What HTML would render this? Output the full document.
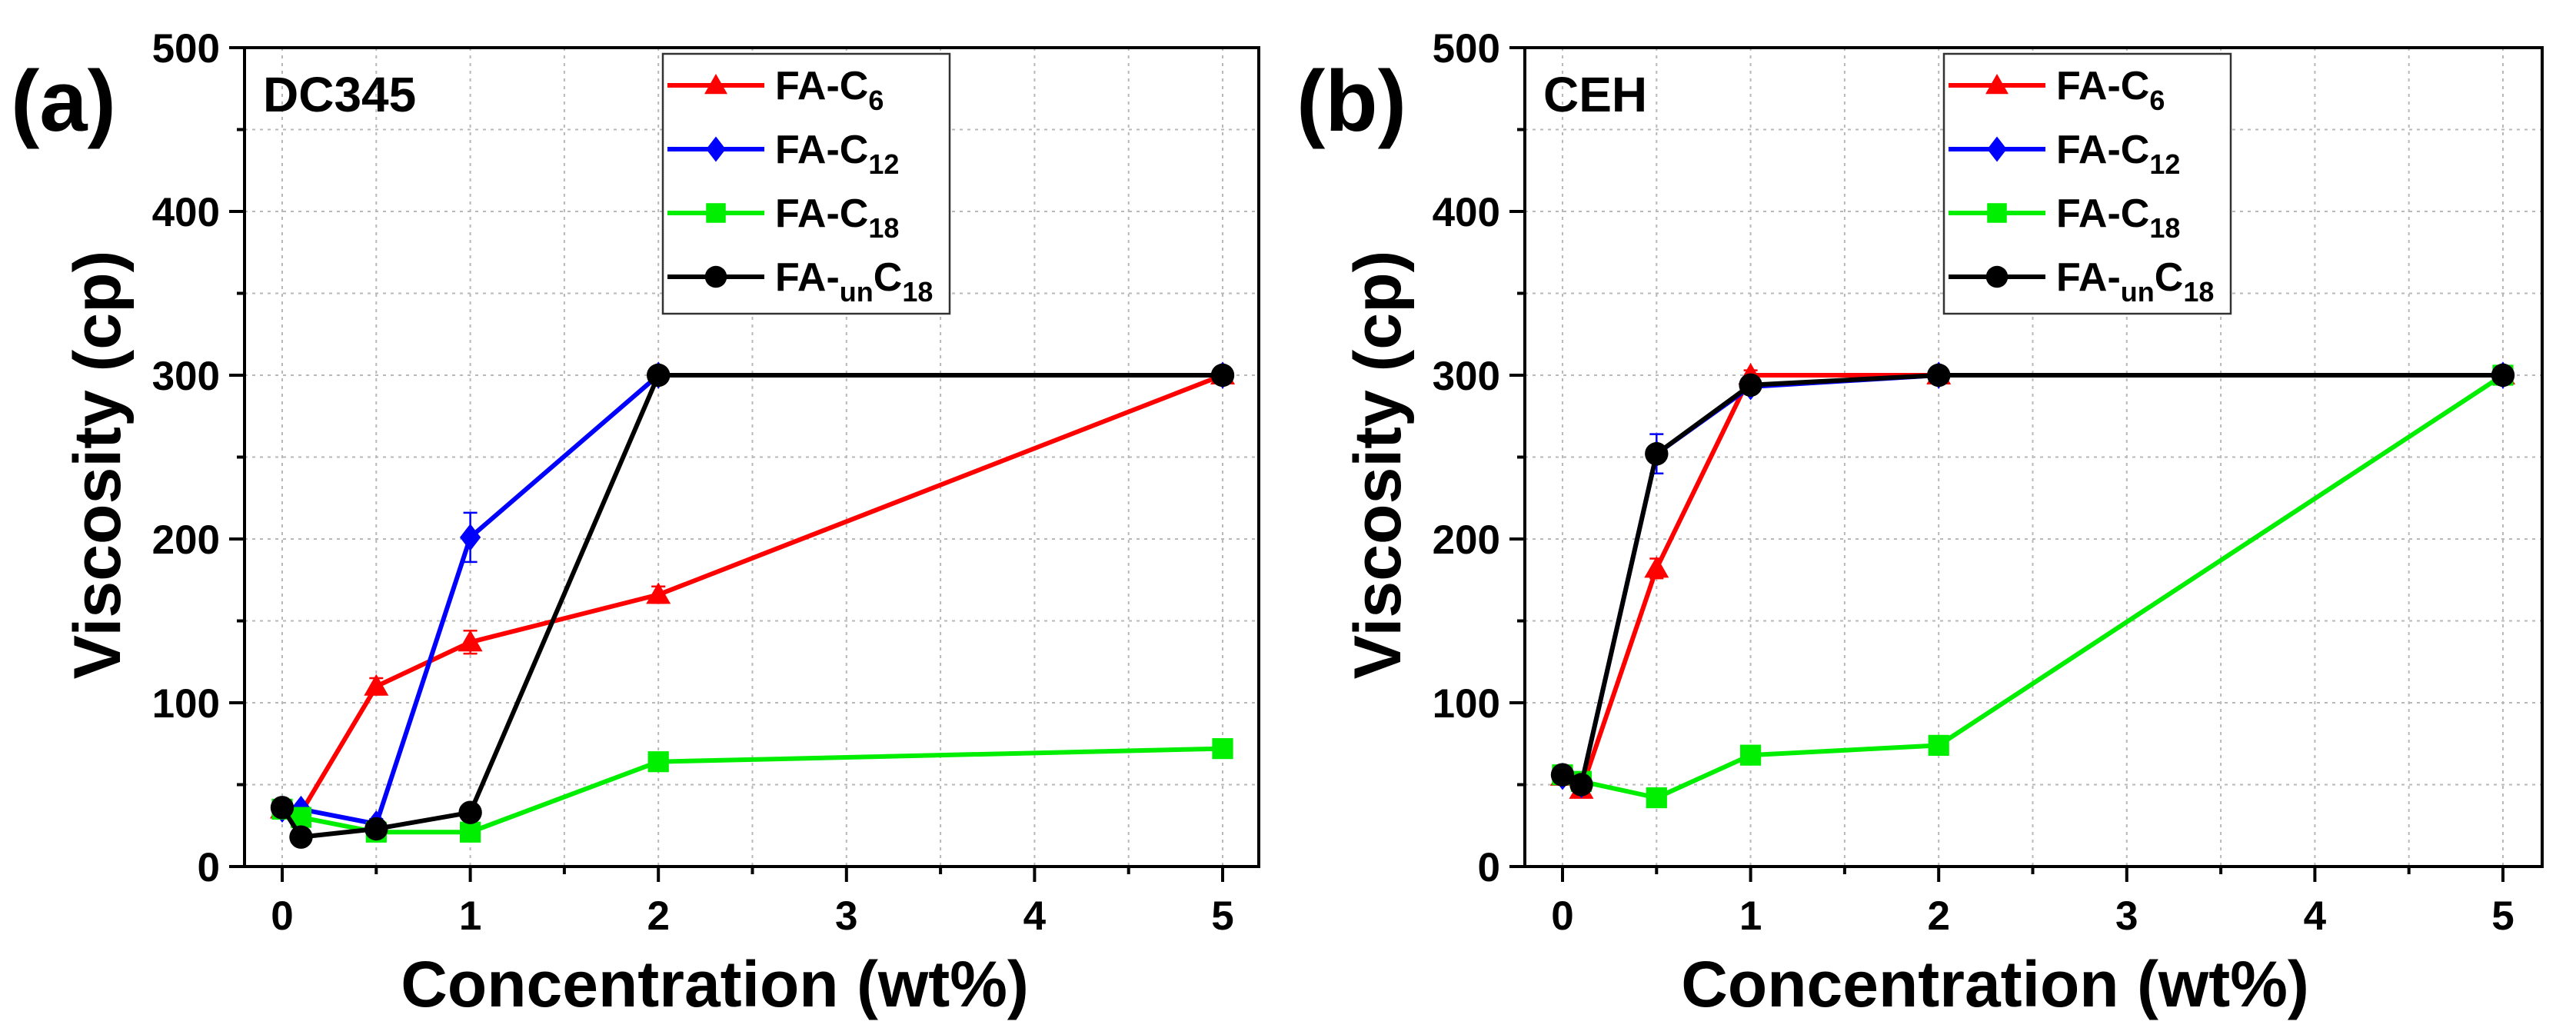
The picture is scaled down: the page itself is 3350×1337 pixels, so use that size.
<!DOCTYPE html>
<html><head><meta charset="utf-8"><style>
html,body{margin:0;padding:0;background:#fff}
svg{display:block}
text{font-family:"Liberation Sans",Arial,sans-serif;font-weight:bold;fill:#000}
</style></head><body>
<svg id="fig" width="3350" height="1337" viewBox="0 0 3350 1337" xmlns="http://www.w3.org/2000/svg"></svg>
<script>
const xCats = [0, 0.1, 0.5, 1, 2, 5];
const xTicks = [0, 1, 2, 3, 4, 5];
const yTicks = [0, 100, 200, 300, 400, 500];
const seriesNames = ["FA-C6", "FA-C12", "FA-C18", "FA-unC18"];
const a_C6 = [35, 33, 110, 137, 166, 300];
const a_C12 = [35, 35, 26, 201, 300, 300];
const a_C18 = [35, 30, 21, 21, 64, 72];
const a_unC18 = [36, 18, 23, 33, 300, 300];
const a_err_C6 = [3, 3, 5, 7, 5, 3];
const a_err_C12 = [3, 2, 3, 15, 2, 3];
const b_C6 = [55, 47, 182, 300, 300, 300];
const b_C12 = [55, 50, 252, 293, 300, 300];
const b_C18 = [56, 52, 42, 68, 74, 300];
const b_unC18 = [56, 50, 252, 294, 300, 300];
const b_err_C6 = [3, 3, 6, 3, 2, 3];
const b_err_C12 = [3, 3, 12, 3, 2, 3];

const NS = "http://www.w3.org/2000/svg";
const svg = document.getElementById("fig");
function mk(tag, attrs, parent, txt) {
  const e = document.createElementNS(NS, tag);
  for (const k in attrs) e.setAttribute(k, attrs[k]);
  if (txt !== undefined) e.textContent = txt;
  (parent || svg).appendChild(e);
  return e;
}
const colors = ["#ff0000", "#0000ff", "#00ee00", "#000000"];
const shapes = ["tri", "dia", "sq", "circ"];

function marker(g, shape, cx, cy, color, s) {
  let el;
  if (shape === "tri") el = mk("polygon", {points: `${cx},${cy - s} ${cx - s},${cy + s * 0.75} ${cx + s},${cy + s * 0.75}`, fill: color}, g);
  else if (shape === "dia") el = mk("polygon", {points: `${cx},${cy - s * 1.1} ${cx + s * 0.85},${cy} ${cx},${cy + s * 1.1} ${cx - s * 0.85},${cy}`, fill: color}, g);
  else if (shape === "sq") el = mk("rect", {x: cx - s * 0.85, y: cy - s * 0.85, width: s * 1.7, height: s * 1.7, fill: color}, g);
  else el = mk("circle", {cx: cx, cy: cy, r: s * 0.95, fill: color}, g);
  
  
}

function panel(opts) {
  const L = opts.L, R = opts.R, T = 62, B = 1127;
  const x0 = opts.x0, xu = 244.6;
  const X = v => x0 + v * xu;
  const Y = v => B - (v / 500) * (B - T);
  const g = mk("g", {});
  
  
  const grid = mk("g", {stroke: "#b8b8b8", "stroke-width": 2, "stroke-dasharray": "4,6"}, g);
  
  
  for (let v = 0; v <= 5; v += 0.5) mk("line", {x1: X(v), x2: X(v), y1: T, y2: B}, grid);
  for (let v = 50; v < 500; v += 50) mk("line", {x1: L, x2: R, y1: Y(v), y2: Y(v)}, grid);
  const data = opts.data, errs = opts.errs;
  data.forEach((arr, si) => {
    const sg = mk("g", {}, g);
    
    
    const pts = arr.map((v, i) => `${X(xCats[i])},${Y(v)}`).join(" ");
    const pl = mk("polyline", {points: pts, fill: "none", stroke: colors[si], "stroke-width": 6}, sg);
    
    
    if (errs[si]) {
      arr.forEach((v, i) => {
        const e = errs[si][i];
        const cx = X(xCats[i]);
        const eb = mk("path", {d: `M${cx},${Y(v - e)}V${Y(v + e)}M${cx - 9},${Y(v - e)}h18M${cx - 9},${Y(v + e)}h18`, stroke: colors[si], "stroke-width": 2.5, fill: "none"}, sg);
        
        
      });
    }
    arr.forEach((v, i) => marker(sg, shapes[si], X(xCats[i]), Y(v), colors[si], 16));
  });
  const ax = mk("rect", {x: L, y: T, width: R - L, height: B - T, fill: "none", stroke: "#000", "stroke-width": 4}, g);
  
  
  for (let v = 0; v <= 500; v += 50) {
    const major = v % 100 === 0;
    mk("line", {x1: L - (major ? 20 : 10), x2: L, y1: Y(v), y2: Y(v), stroke: "#000", "stroke-width": 4}, g);
  }
  yTicks.forEach(v => {
    const t = mk("text", {x: L - 32, y: Y(v) + 19, "text-anchor": "end", "font-size": 53}, g, String(v));
    
    
  });
  for (let v = 0; v <= 5; v += 0.5) {
    const major = v % 1 === 0;
    mk("line", {x1: X(v), x2: X(v), y1: B, y2: B + (major ? 20 : 10), stroke: "#000", "stroke-width": 4}, g);
  }
  xTicks.forEach(v => {
    const t = mk("text", {x: X(v), y: 1209, "text-anchor": "middle", "font-size": 53}, g, String(v));
    
    
  });
  const yt = mk("text", {x: 0, y: 0, "text-anchor": "middle", "font-size": 86, transform: `translate(${L - 162},${(T + B) / 2 + 10}) rotate(-90)`}, g, "Viscosity (cp)");
  
  
  const xt = mk("text", {x: X(2.3), y: 1309, "text-anchor": "middle", "font-size": 84}, g, "Concentration (wt%)");
  
  
  const pl = mk("text", {x: opts.labX, y: 170, "font-size": 112}, g, opts.label);
  
  
  const st = mk("text", {x: L + 24, y: 145, "font-size": 64}, g, opts.sample);
  
  
  const lg = mk("g", {}, g);
  
  
  const lx = opts.legX;
  mk("rect", {x: lx, y: 70, width: 373, height: 338, fill: "#fff", stroke: "#333", "stroke-width": 2.5}, lg);
  const subs = [["", "6"], ["", "12"], ["", "18"], ["un", "18"]];
  subs.forEach((s, i) => {
    const yy = 111 + i * 83;
    const en = mk("g", {}, lg);
    
    
    mk("line", {x1: lx + 6, x2: lx + 132, y1: yy, y2: yy, stroke: colors[i], "stroke-width": 6}, en);
    marker(en, shapes[i], lx + 69, yy, colors[i], 15);
    const t = mk("text", {x: lx + 146, y: yy + 18, "font-size": 52}, en);
    mk("tspan", {}, t, "FA-");
    if (s[0]) mk("tspan", {"font-size": 36, dy: 14}, t, s[0]);
    mk("tspan", {dy: s[0] ? -14 : 0}, t, "C");
    mk("tspan", {"font-size": 36, dy: 14}, t, s[1]);
  });
}

panel({name: "panel-a-dc345", L: 318, R: 1637, x0: 367, label: "(a)", labX: 14, sample: "DC345", legX: 862,
  data: [a_C6, a_C12, a_C18, a_unC18], errs: [a_err_C6, a_err_C12, null, null]});
panel({name: "panel-b-ceh", L: 1983, R: 3306, x0: 2032, label: "(b)", labX: 1686, sample: "CEH", legX: 2528,
  data: [b_C6, b_C12, b_C18, b_unC18], errs: [b_err_C6, b_err_C12, null, null]});
</script>
</body></html>
